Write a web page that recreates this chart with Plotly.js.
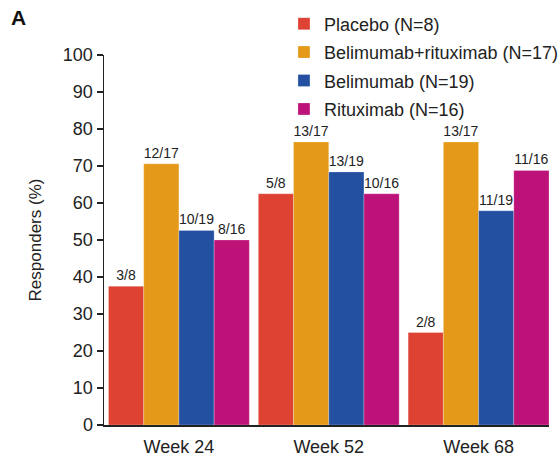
<!DOCTYPE html>
<html>
<head>
<meta charset="utf-8">
<script src="https://cdn.plot.ly/plotly-3.0.1.min.js"></script>
<style>html,body{margin:0;padding:0;background:#fff;}#chart{width:559px;height:457px;}</style>
</head>
<body>
<div id="chart"></div>
<script>
const categories = ["Week 24", "Week 52", "Week 68"];
const seriesNames = ["Placebo (N=8)", "Belimumab+rituximab (N=17)", "Belimumab (N=19)", "Rituximab (N=16)"];
const placebo = [37.5, 62.5, 25.0];
const belRit = [70.6, 76.5, 76.5];
const belimumab = [52.6, 68.4, 57.9];
const rituximab = [50.0, 62.5, 68.8];
const placeboLabels = ["3/8", "5/8", "2/8"];
const belRitLabels = ["12/17", "13/17", "13/17"];
const belimumabLabels = ["10/19", "13/19", "11/19"];
const rituximabLabels = ["8/16", "10/16", "11/16"];
const colors = ["#dd4233", "#e49a18", "#2450a2", "#bd1277"];

const values = [placebo, belRit, belimumab, rituximab];
const labels = [placeboLabels, belRitLabels, belimumabLabels, rituximabLabels];

const FONT = "Liberation Sans, Arial, sans-serif";

const traces = values.map((v, i) => ({
  type: "bar",
  name: seriesNames[i],
  x: categories,
  y: v,
  text: labels[i],
  textposition: "outside",
  textfont: {family: FONT, size: 14, color: "#222"},
  constraintext: "none",
  cliponaxis: false,
  legendgroup: "g" + i,
  marker: {color: colors[i], line: {color: "rgba(255,255,255,0.5)", width: 0.5}}
}));

const layout = {
  width: 559, height: 457,
  margin: {l: 104, r: 10, t: 55, b: 32, autoexpand: false},
  paper_bgcolor: "#fff", plot_bgcolor: "#fff",
  font: {family: FONT, size: 18, color: "#222"},
  barmode: "group",
  bargap: 0.06,
  bargroupgap: 0,
  showlegend: true,
  legend: {xref: "container", yref: "container", x: 0.508, y: 0.988,
           xanchor: "left", yanchor: "top", traceorder: "grouped",
           tracegroupgap: 2, font: {size: 18, color: "#222"}, bgcolor: "rgba(0,0,0,0)"},
  xaxis: {
    type: "category", range: [-0.5, 2.47],
    showline: true, linecolor: "#222", linewidth: 1.5,
    ticks: "", showgrid: false, zeroline: false,
    ticklabelstandoff: 5,
    tickfont: {size: 18, color: "#222"}
  },
  yaxis: {
    range: [0, 100], dtick: 10, tick0: 0,
    showline: true, linecolor: "#222", linewidth: 1.5,
    ticks: "outside", ticklen: 6, tickwidth: 1.5, tickcolor: "#222",
    showgrid: false, zeroline: false,
    tickfont: {size: 18, color: "#222"},
    title: {text: "Responders (%)", font: {size: 17, color: "#222"}, standoff: 17}
  },
  annotations: [{
    text: "<b>A</b>", xref: "paper", yref: "paper", x: -0.213, y: 1.10,
    xanchor: "left", yanchor: "middle", showarrow: false,
    font: {size: 21, color: "#111", family: FONT}
  }]
};

Plotly.newPlot("chart", traces, layout, {displayModeBar: false, staticPlot: true});
</script>
</body>
</html>
